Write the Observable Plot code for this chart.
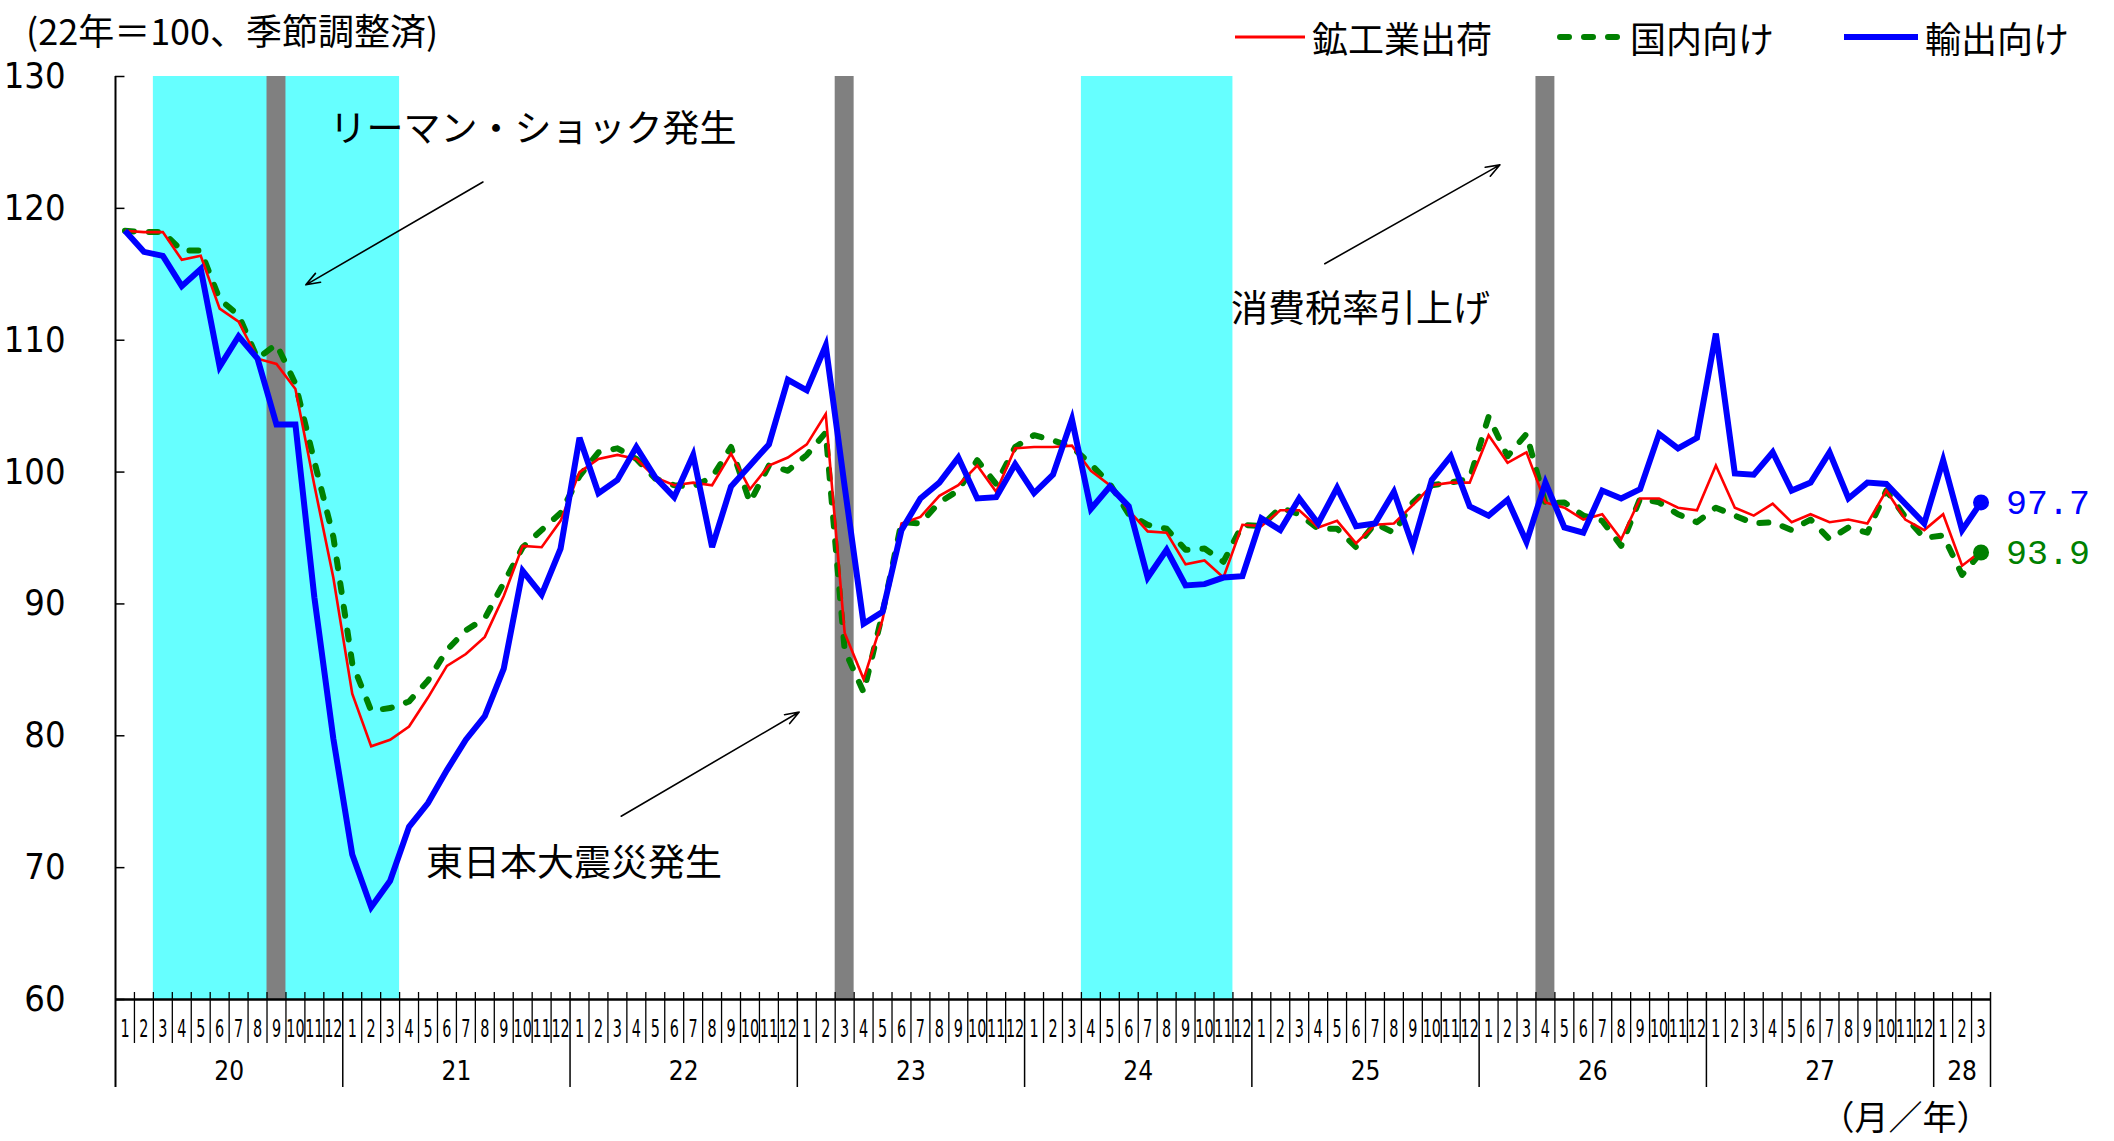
<!DOCTYPE html>
<html>
<head>
<meta charset="utf-8">
<script src="https://cdn.jsdelivr.net/npm/d3@7"></script>
<script src="https://cdn.jsdelivr.net/npm/@observablehq/plot@0.6"></script>
<style>
  html, body { margin: 0; padding: 0; background: #fff; }
  #chart { position: relative; width: 2114px; height: 1141px; overflow: hidden; }
  .cjk { font-family: "Noto Sans CJK JP", "Noto Sans", sans-serif; color: #000; }
  .title { position: absolute; left: 26px; top: 9px; font-size: 36px; line-height: 40px; white-space: nowrap; }
  .legend-item { position: absolute; top: 17px; height: 40px; display: flex; align-items: center; font-size: 36px; line-height: 40px; white-space: nowrap; }
  .legend-item svg { display: block; margin-right: 7px; }
</style>
</head>
<body>
<div id="chart"></div>
<script>
// Fiscal years shown on the axis (two-digit), and how many months each one covers
const years = [20, 21, 22, 23, 24, 25, 26, 27, 28];
const monthsInYear = [12, 12, 12, 12, 12, 12, 12, 12, 3];

// 鉱工業出荷 (total shipments)
const shipments = [
  118.3, 118.2, 118.2, 116.1, 116.4, 112.4, 111.4, 108.6, 108.2, 106.3, 99.0, 92.0,
  83.2, 79.2, 79.7, 80.7, 82.9, 85.3, 86.2, 87.5, 90.6, 94.4, 94.3, 96.3,
  100.0, 101.0, 101.3, 101.0, 99.6, 99.0, 99.2, 99.0, 101.4, 98.7, 100.5, 101.1,
  102.1, 104.4, 87.8, 84.3, 88.8, 96.1, 96.6, 98.2, 99.0, 100.5, 98.5, 101.8,
  101.9, 101.9, 102.0, 100.1, 99.0, 97.1, 95.5, 95.4, 93.0, 93.3, 92.0, 96.0,
  95.9, 97.1, 97.1, 95.8, 96.3, 94.6, 96.0, 96.1, 97.5, 99.0, 99.2, 99.2,
  102.8, 100.7, 101.5, 97.7, 97.3, 96.4, 96.8, 94.9, 98.0, 98.0, 97.3, 97.1,
  100.5, 97.3, 96.7, 97.6, 96.2, 96.8, 96.2, 96.4, 96.1, 98.6, 96.4, 95.6,
  96.8, 92.9, 94.0
];

// 国内向け (domestic shipments)
const domestic = [
  118.3, 118.2, 118.2, 116.8, 116.8, 113.1, 111.9, 108.6, 109.7, 106.7, 100.8, 95.1,
  85.5, 81.9, 82.1, 82.6, 84.2, 86.5, 88.0, 88.9, 91.6, 94.3, 95.6, 96.9,
  99.7, 101.5, 101.8, 101.0, 99.5, 99.0, 98.9, 99.6, 101.9, 97.7, 100.5, 100.1,
  101.3, 103.0, 86.5, 83.3, 89.3, 96.2, 96.1, 97.7, 98.6, 100.9, 99.1, 101.9,
  102.8, 102.4, 101.9, 100.6, 99.1, 96.8, 96.0, 95.7, 94.1, 94.2, 93.2, 96.0,
  95.9, 97.3, 96.8, 95.7, 95.7, 94.3, 96.1, 95.4, 97.7, 99.0, 99.2, 99.5,
  104.2, 101.2, 102.9, 97.6, 97.7, 96.7, 96.3, 94.4, 98.0, 97.7, 96.8, 96.2,
  97.3, 96.7, 96.1, 96.2, 95.6, 96.4, 94.9, 95.8, 95.4, 98.6, 96.6, 95.0,
  95.2, 92.2, 93.9
];

// 輸出向け (export shipments)
const exportShipments = [
  118.3, 116.7, 116.4, 114.1, 115.4, 108.0, 110.3, 108.6, 103.6, 103.6, 90.5, 79.8,
  71.0, 67.0, 69.0, 73.1, 74.9, 77.4, 79.7, 81.5, 85.1, 92.5, 90.7, 94.2,
  102.6, 98.4, 99.4, 101.9, 99.6, 98.1, 101.3, 94.3, 98.9, 100.5, 102.1, 107.0,
  106.2, 109.6, 98.9, 88.5, 89.4, 95.6, 98.0, 99.2, 101.1, 98.0, 98.1, 100.6,
  98.4, 99.8, 104.0, 97.2, 98.9, 97.4, 92.0, 94.1, 91.4, 91.5, 92.0, 92.1,
  96.5, 95.6, 98.0, 96.1, 98.8, 95.9, 96.1, 98.5, 94.4, 99.4, 101.2, 97.4,
  96.7, 97.9, 94.7, 99.2, 95.8, 95.4, 98.6, 98.0, 98.7, 102.9, 101.8, 102.6,
  110.5, 99.9, 99.8, 101.5, 98.6, 99.2, 101.5, 98.0, 99.2, 99.1, 97.6, 96.1,
  100.9, 95.6, 97.7
];

// Shaded recession phases and single-month event bars (year/month)
const recessions = [{from: "20/3", to: "21/3"}, {from: "24/4", to: "24/11"}];
const events = ["20/9", "23/3", "26/4"];

const yTicks = [60, 70, 80, 90, 100, 110, 120, 130];

// Event callouts: text anchor and arrow in data units (month position, index value)
const notes = [
  {text: "リーマン・ショック発生", x: 11.3, y: 125.9},
  {text: "東日本大震災発生", x: 16.4, y: 70.3},
  {text: "消費税率引上げ", x: 58.9, y: 112.3}
];
const arrows = [
  {x1: 19.4, y1: 122.0, x2: 10.05, y2: 114.2},
  {x1: 26.7, y1: 73.9, x2: 36.1, y2: 81.8},
  {x1: 63.85, y1: 115.8, x2: 73.1, y2: 123.3}
];

const legendItems = [
  {label: "鉱工業出荷", color: "#ff0000", width: 3, dash: null, left: 1235, swatch: 70},
  {label: "国内向け", color: "#008000", width: 6, dash: "9,15", left: 1557, swatch: 66},
  {label: "輸出向け", color: "#0000ff", width: 6, dash: null, left: 1844, swatch: 74}
];

// ---- derived tables ----
const periods = years.flatMap((y, k) =>
  d3.range(1, monthsInYear[k] + 1).map(m => ({year: y, month: m, key: `${y}/${m}`})));
const index = new Map(periods.map((p, i) => [p.key, i]));
const rows = periods.map((p, i) => ({
  x: i + 0.5,
  shipments: shipments[i],
  domestic: domestic[i],
  exports: exportShipments[i]
}));
const last = rows[rows.length - 1];

const yearStarts = d3.cumsum([0, ...monthsInYear]);           // 0,12,...,96,99
const yearSpans = years.map((y, k) => ({year: y, mid: (yearStarts[k] + yearStarts[k + 1]) / 2}));
const yearBounds = Array.from(yearStarts).slice(1);
const monthBounds = d3.range(1, periods.length).filter(b => !yearBounds.includes(b));

const NARROW = '"Liberation Sans Narrow", "DejaVu Sans Condensed", "Liberation Sans", sans-serif';
const CJK = '"Noto Sans CJK JP", "Noto Sans", sans-serif';
const MONO = '"Liberation Mono", "DejaVu Sans Mono", monospace';

const chart = Plot.plot({
  width: 2114,
  height: 1141,
  marginLeft: 115,
  marginRight: 124,
  marginTop: 76,
  marginBottom: 142,
  x: {type: "linear", domain: [0, periods.length], axis: null},
  y: {domain: [60, 130], axis: null},
  style: {background: "#fff", overflow: "visible", fontFamily: NARROW, color: "#000"},
  marks: [
    // recession phases and event months
    Plot.rect(recessions, {x1: d => index.get(d.from), x2: d => index.get(d.to) + 1, fill: "#66ffff"}),
    Plot.rect(events, {x1: d => index.get(d), x2: d => index.get(d) + 1, fill: "#808080"}),

    // y axis: spine, inward ticks, labels
    Plot.ruleX([0], {strokeWidth: 2, insetBottom: -88}),
    Plot.ruleY(yTicks, {x1: 0, x2: 0.5, strokeWidth: 1.5}),
    Plot.text(yTicks, {y: d => d, frameAnchor: "left", dx: -50, textAnchor: "end",
      fontSize: 36, fontFamily: NARROW}),

    // x axis: baseline, month ticks, year separators, labels
    Plot.ruleY([60], {strokeWidth: 2.5}),
    Plot.ruleX(monthBounds, {x: d => d, insetTop: 916, insetBottom: -44, strokeWidth: 1.3}),
    Plot.ruleX(yearBounds, {x: d => d, insetTop: 916, insetBottom: -88, strokeWidth: 1.5}),
    Plot.text(periods, {x: (d, i) => i + 0.5, text: d => String(d.month), frameAnchor: "bottom",
      dy: 37, fontSize: 25, fontFamily: NARROW}),
    Plot.text(yearSpans, {x: "mid", text: d => String(d.year), frameAnchor: "bottom",
      dy: 80, fontSize: 26, fontFamily: NARROW}),
    Plot.text(["（月／年）"], {frameAnchor: "bottom-right", textAnchor: "end", dx: 0, dy: 130,
      fontSize: 34, fontFamily: CJK}),

    // series
    Plot.line(rows, {x: "x", y: "domestic", stroke: "#008000", strokeWidth: 6,
      strokeDasharray: "9,15", strokeLinecap: "round", strokeLinejoin: "round"}),
    Plot.line(rows, {x: "x", y: "shipments", stroke: "#ff0000", strokeWidth: 2.6,
      strokeLinejoin: "miter", strokeMiterlimit: 4, strokeLinecap: "butt"}),
    Plot.line(rows, {x: "x", y: "exports", stroke: "#0000ff", strokeWidth: 6,
      strokeLinejoin: "miter", strokeMiterlimit: 4, strokeLinecap: "butt"}),

    // latest values
    Plot.dot([last], {x: "x", y: "exports", r: 8, fill: "#0000ff"}),
    Plot.dot([last], {x: "x", y: "domestic", r: 8, fill: "#008000"}),
    Plot.text([last], {x: "x", y: "exports", text: d => d.exports.toFixed(1), dx: 25,
      textAnchor: "start", fill: "#0000ff", fontSize: 35, fontFamily: MONO}),
    Plot.text([last], {x: "x", y: "domestic", text: d => d.domestic.toFixed(1), dx: 25,
      textAnchor: "start", fill: "#008000", fontSize: 35, fontFamily: MONO}),

    // event callouts
    Plot.arrow(arrows, {x1: "x1", y1: "y1", x2: "x2", y2: "y2", stroke: "#000",
      strokeWidth: 1.6, headLength: 14, headAngle: 40}),
    Plot.text(notes, {x: "x", y: "y", text: "text", textAnchor: "start", fontSize: 37,
      fontFamily: CJK, fill: "#000"})
  ]
});

// Month labels are drawn horizontally condensed so that 10–12 fit inside their month cells
const monthNames = new Set(periods.map(p => String(p.month)));
d3.select(chart).selectAll("text")
  .filter(function() { return monthNames.has(this.textContent); })
  .each(function() {
    const t = this.getAttribute("transform") || "";
    const x = +(this.getAttribute("x") || 0);
    this.setAttribute("x", 0);
    this.setAttribute("transform", `${t} translate(${x},0) scale(0.64,1)`);
  });

const root = document.getElementById("chart");
root.appendChild(chart);

// Unit note above the value axis
const title = document.createElement("div");
title.className = "title cjk";
title.textContent = "(22年＝100、季節調整済)";
root.appendChild(title);

// Legend across the top right
for (const item of legendItems) {
  const div = document.createElement("div");
  div.className = "legend-item cjk";
  div.style.left = item.left + "px";
  const sw = d3.create("svg").attr("width", item.swatch).attr("height", 12);
  sw.append("line")
    .attr("x1", item.dash ? 3 : 0).attr("x2", item.dash ? item.swatch - 3 : item.swatch)
    .attr("y1", 6).attr("y2", 6)
    .attr("stroke", item.color).attr("stroke-width", item.width)
    .attr("stroke-linecap", item.dash ? "round" : "butt")
    .attr("stroke-dasharray", item.dash);
  div.appendChild(sw.node());
  const span = document.createElement("span");
  span.textContent = item.label;
  div.appendChild(span);
  root.appendChild(div);
}
</script>
</body>
</html>
